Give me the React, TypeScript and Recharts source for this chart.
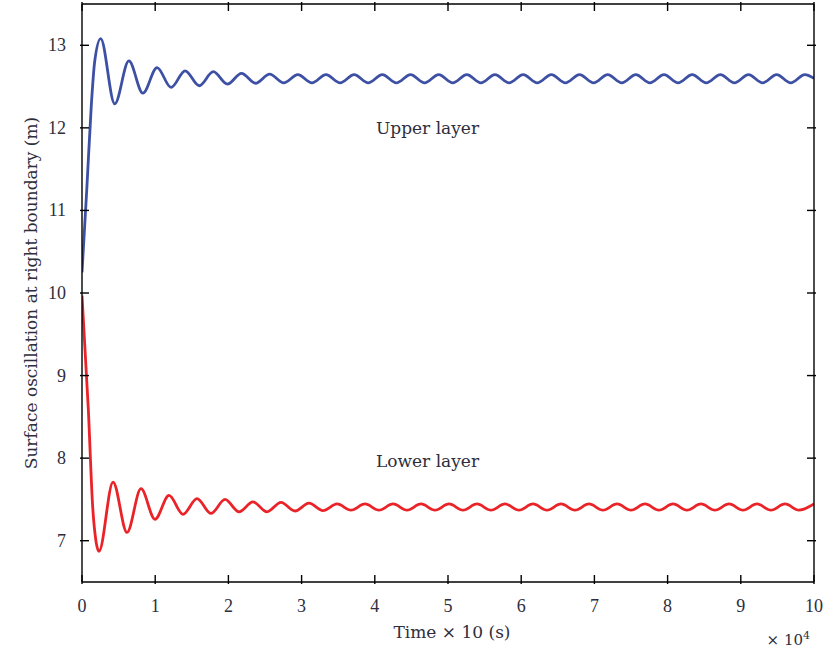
import React from 'react';
import { LineChart, Line, XAxis, YAxis, ReferenceDot } from 'recharts';

// Time (× 10^4 s, in units of "Time × 10")
const upperTime = [0, 0.065, 0.127, 0.173, 0.255, 0.447, 0.640, 0.832, 1.025, 1.217, 1.409, 1.602, 1.794, 1.986, 2.179, 2.371, 2.564, 2.756, 2.949, 3.141, 3.333, 3.526, 3.718, 3.910, 4.103, 4.295, 4.488, 4.680, 4.873, 5.065, 5.257, 5.450, 5.642, 5.834, 6.027, 6.219, 6.412, 6.604, 6.797, 6.989, 7.181, 7.374, 7.566, 7.758, 7.951, 8.143, 8.336, 8.528, 8.721, 8.913, 9.105, 9.298, 9.490, 9.682, 9.875, 10];
const upperLevel = [10.25, 11.25, 12.27, 12.8, 13.08, 12.29, 12.81, 12.42, 12.73, 12.49, 12.69, 12.51, 12.68, 12.53, 12.66, 12.54, 12.65, 12.545, 12.645, 12.545, 12.645, 12.545, 12.645, 12.545, 12.645, 12.545, 12.645, 12.545, 12.645, 12.545, 12.645, 12.545, 12.645, 12.545, 12.645, 12.545, 12.645, 12.545, 12.645, 12.545, 12.645, 12.545, 12.645, 12.545, 12.645, 12.545, 12.645, 12.545, 12.645, 12.545, 12.645, 12.545, 12.645, 12.545, 12.645, 12.6];

const lowerTime = [0, 0.086, 0.146, 0.19, 0.232, 0.424, 0.615, 0.806, 0.997, 1.189, 1.380, 1.571, 1.762, 1.954, 2.145, 2.336, 2.527, 2.719, 2.910, 3.101, 3.292, 3.484, 3.675, 3.866, 4.057, 4.249, 4.440, 4.631, 4.822, 5.014, 5.205, 5.396, 5.587, 5.779, 5.970, 6.161, 6.352, 6.544, 6.735, 6.926, 7.117, 7.309, 7.500, 7.691, 7.882, 8.074, 8.265, 8.456, 8.647, 8.839, 9.030, 9.221, 9.412, 9.604, 9.795, 10];
const lowerLevel = [9.97, 8.6, 7.41, 7.0, 6.87, 7.71, 7.10, 7.63, 7.26, 7.55, 7.32, 7.51, 7.33, 7.50, 7.35, 7.47, 7.35, 7.465, 7.36, 7.455, 7.365, 7.445, 7.37, 7.445, 7.37, 7.445, 7.37, 7.445, 7.37, 7.445, 7.37, 7.445, 7.37, 7.445, 7.37, 7.445, 7.37, 7.445, 7.37, 7.445, 7.37, 7.445, 7.37, 7.445, 7.37, 7.445, 7.37, 7.445, 7.37, 7.445, 7.37, 7.445, 7.37, 7.445, 7.37, 7.445];

const xTicks = [0, 1, 2, 3, 4, 5, 6, 7, 8, 9, 10];
const yTicks = [7, 8, 9, 10, 11, 12, 13];
const xDomain = [0, 10];
const yDomain = [6.5, 13.5];

const upperData = upperTime.map((t, i) => ({ t, v: upperLevel[i] }));
const lowerData = lowerTime.map((t, i) => ({ t, v: lowerLevel[i] }));

const TEXT_FONT = 'DejaVu Serif';
const TICK_FONT = 'Liberation Serif';
const TEXT_COLOR = '#2e2e3c';
const TICK_LEN = 9;

const axisLine = { stroke: '#000', strokeWidth: 1.4 };

const XTick = (props: any) => {
  const { x, y, payload, showLabel, dir } = props;
  const base = dir === 'down' ? y : y;
  return (
    <g>
      <line x1={x} x2={x} y1={base} y2={dir === 'down' ? base + TICK_LEN : base - TICK_LEN} stroke="#000" strokeWidth={1.4} />
      {showLabel && (
        <text x={x} y={base + 28} textAnchor="middle" fontFamily={TICK_FONT} fontSize={18} fill={TEXT_COLOR}>
          {payload.value}
        </text>
      )}
    </g>
  );
};

const YTick = (props: any) => {
  const { x, y, payload, showLabel, dir } = props;
  return (
    <g>
      <line x1={x} x2={dir === 'right' ? x + TICK_LEN : x - TICK_LEN} y1={y} y2={y} stroke="#000" strokeWidth={1.4} />
      {showLabel && (
        <text x={x - 14} y={y + 6} textAnchor="end" fontFamily={TICK_FONT} fontSize={18} fill={TEXT_COLOR}>
          {payload.value}
        </text>
      )}
    </g>
  );
};

const XTitle = (props: any) => {
  const vb = props.viewBox || { x: 82, y: 582, width: 732, height: 75 };
  return (
    <g>
      <text x={vb.x + vb.width / 2 + 4} y={vb.y + 56} textAnchor="middle" fontFamily={TEXT_FONT} fontSize={17} fill={TEXT_COLOR}>
        Time × 10 (s)
      </text>
      <text x={vb.x + vb.width - 4} y={vb.y + 63} textAnchor="end" fontFamily={TEXT_FONT} fontSize={15} fill={TEXT_COLOR}>
        × 10<tspan dy={-6} fontSize={11}>4</tspan>
      </text>
    </g>
  );
};

const YTitle = (props: any) => {
  const vb = props.viewBox || { x: 0, y: 4, width: 82, height: 578 };
  const cx = vb.x + 31;
  const cy = vb.y + vb.height / 2;
  return (
    <text x={cx} y={cy} transform={`rotate(-90, ${cx}, ${cy})`} textAnchor="middle" dominantBaseline="central" fontFamily={TEXT_FONT} fontSize={17} fill={TEXT_COLOR}>
      Surface oscillation at right boundary (m)
    </text>
  );
};

export default function App() {
  return (
    <div style={{ position: 'absolute', left: 0, top: 0, width: 837, height: 657, background: '#fff' }}>
      <LineChart width={837} height={657} margin={{ top: 3, right: 22, bottom: 0, left: 0 }}>
        <XAxis xAxisId="b" type="number" dataKey="t" domain={xDomain} ticks={xTicks} allowDataOverflow
          height={75} tickSize={0} tickLine={false} axisLine={axisLine}
          tick={(p: any) => <XTick {...p} showLabel dir="up" />}
          label={XTitle} />
        <XAxis xAxisId="top" orientation="top" type="number" dataKey="t" domain={xDomain} ticks={xTicks} allowDataOverflow
          height={1} tickSize={0} tickLine={false} axisLine={axisLine}
          tick={(p: any) => <XTick {...p} dir="down" />} />
        <YAxis yAxisId="l" type="number" domain={yDomain} ticks={yTicks} allowDataOverflow
          width={82} tickSize={0} tickLine={false} axisLine={axisLine}
          tick={(p: any) => <YTick {...p} showLabel dir="right" />}
          label={YTitle} />
        <YAxis yAxisId="r" orientation="right" type="number" domain={yDomain} ticks={yTicks} allowDataOverflow
          width={1} tickSize={0} tickLine={false} axisLine={axisLine}
          tick={(p: any) => <YTick {...p} dir="left" />} />
        <Line xAxisId="top" yAxisId="r" data={upperData} dataKey="v" type="linear" stroke="none" strokeWidth={0}
          dot={false} activeDot={false} isAnimationActive={false} />
        <Line xAxisId="b" yAxisId="l" data={upperData} dataKey="v" type="monotoneX" stroke="#3d50a3" strokeWidth={2.8}
          dot={false} isAnimationActive={false} />
        <Line xAxisId="b" yAxisId="l" data={lowerData} dataKey="v" type="monotoneX" stroke="#ea2329" strokeWidth={2.8}
          dot={false} isAnimationActive={false} />
        <ReferenceDot xAxisId="b" yAxisId="l" x={4.72} y={12.0} r={0} fill="none" stroke="none"
          label={{ value: 'Upper layer', position: 'center', fontFamily: TEXT_FONT, fontSize: 17, fill: TEXT_COLOR }} />
        <ReferenceDot xAxisId="b" yAxisId="l" x={4.72} y={7.97} r={0} fill="none" stroke="none"
          label={{ value: 'Lower layer', position: 'center', fontFamily: TEXT_FONT, fontSize: 17, fill: TEXT_COLOR }} />
      </LineChart>
    </div>
  );
}
